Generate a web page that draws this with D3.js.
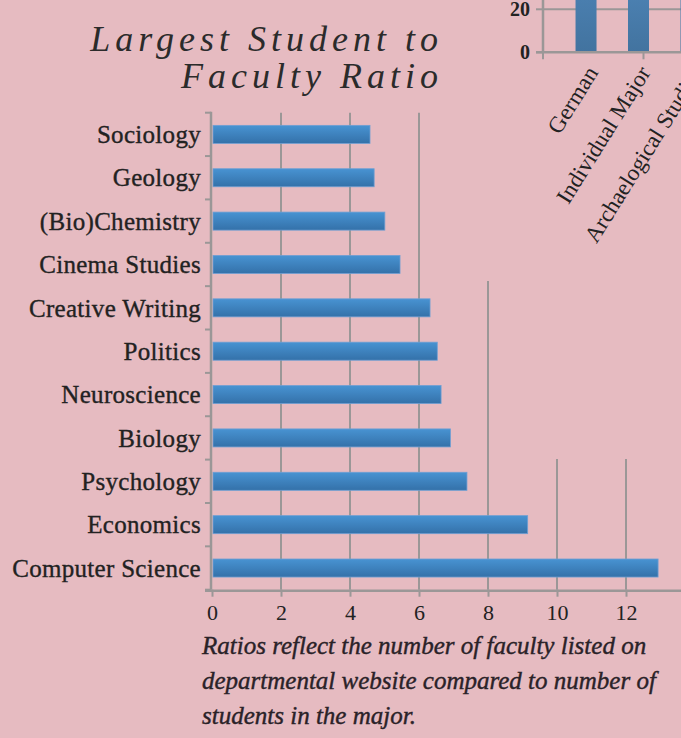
<!DOCTYPE html>
<html>
<head>
<meta charset="utf-8">
<script src="https://cdn.jsdelivr.net/npm/d3@7"></script>
<style>
  body { margin: 0; background: #e6bbc1; }
  svg { display: block; }
</style>
</head>
<body>
<div id="chart"></div>
<script>
// main chart data (top to bottom)
const categories = ["Sociology", "Geology", "(Bio)Chemistry", "Cinema Studies", "Creative Writing",
    "Politics", "Neuroscience", "Biology", "Psychology", "Economics", "Computer Science"]
const ratios = [4.58, 4.70, 5.01, 5.45, 6.32, 6.53, 6.64, 6.91, 7.39, 9.15, 12.93]
const ratioTicks = [0, 2, 4, 6, 8, 10, 12]

// inset chart peeking in at the top right (tops cut off by the page)
const insetCategories = ["German", "Individual Major", "Archaelogical Studies"]
const insetValues = [42, 38, 36]
const insetTicks = [0, 20]

const titleLines = ["Largest Student to", "Faculty Ratio"]
const captionLines = [
    "Ratios reflect the number of faculty listed on",
    "departmental website compared to number of",
    "students in the major."
]

let svg_width = 681
let svg_height = 738
const bg = "#e6bbc1"
const axisGray = "#9b9797"
const serif = "'Liberation Serif', 'DejaVu Serif', serif"

var svg = d3.select("#chart")
    .append("svg")
    .attr("width", svg_width)
    .attr("height", svg_height)

svg.append("rect")
    .attr("width", svg_width)
    .attr("height", svg_height)
    .attr("fill", bg)

var defs = svg.append("defs")
var grad = defs.append("linearGradient")
    .attr("id", "barGrad")
    .attr("x1", 0).attr("y1", 0).attr("x2", 0).attr("y2", 1)
grad.append("stop").attr("offset", "0%").attr("stop-color", "#4893d2")
grad.append("stop").attr("offset", "100%").attr("stop-color", "#3471a9")

var grad2 = defs.append("linearGradient")
    .attr("id", "insetGrad")
    .attr("x1", 0).attr("y1", 0).attr("x2", 0).attr("y2", 1)
grad2.append("stop").attr("offset", "0%").attr("stop-color", "#4f86b9")
grad2.append("stop").attr("offset", "100%").attr("stop-color", "#42739f")

// scales for main chart
var xScale = d3.scaleLinear()
    .domain([0, 14])
    .range([212, 695])

var yScale = d3.scaleBand()
    .domain(categories)
    .range([112.7, 589.7])
    .paddingInner(0.584)
    .paddingOuter(0.292)

const plotTop = yScale.range()[0]
const plotBottom = yScale.range()[1]

// vertical gridlines
svg.append("g").selectAll("line").data(ratioTicks.slice(1))
    .enter().append("line")
    .attr("x1", d => xScale(d))
    .attr("x2", d => xScale(d))
    .attr("y1", plotTop)
    .attr("y2", plotBottom)
    .style("stroke", axisGray)
    .style("stroke-width", "2px")

// the inset chart and the caption box sit on top of the grid with page-coloured fill
svg.append("rect")
    .attr("x", 455).attr("y", 0)
    .attr("width", 226).attr("height", 281)
    .attr("fill", bg)
svg.append("rect")
    .attr("x", 525).attr("y", 0)
    .attr("width", 156).attr("height", 459)
    .attr("fill", bg)

// bars
svg.append("g").selectAll("rect").data(categories)
    .enter().append("rect")
    .attr("x", xScale(0) + 1)
    .attr("y", d => yScale(d))
    .attr("width", (d, i) => xScale(ratios[i]) - xScale(0) - 1)
    .attr("height", yScale.bandwidth())
    .attr("fill", "url(#barGrad)")
    .style("stroke", "#6f9fd3")
    .style("stroke-width", "0.8px")

// y axis line with ticks at band boundaries
var yAxis = svg.append("g")
yAxis.append("line")
    .attr("x1", xScale(0) - 1).attr("x2", xScale(0) - 1)
    .attr("y1", plotTop - 1).attr("y2", plotBottom)
    .style("stroke", axisGray)
    .style("stroke-width", "2.5px")
yAxis.selectAll(".btick").data(d3.range(categories.length + 1))
    .enter().append("line")
    .attr("class", "btick")
    .attr("x1", xScale(0) - 7).attr("x2", xScale(0) - 1)
    .attr("y1", i => plotTop + i * yScale.step())
    .attr("y2", i => plotTop + i * yScale.step())
    .style("stroke", axisGray)
    .style("stroke-width", "2px")

yAxis.selectAll("text").data(categories)
    .enter().append("text")
    .attr("x", 201)
    .attr("y", d => yScale(d) + yScale.bandwidth() / 2)
    .attr("dy", "0.35em")
    .attr("text-anchor", "end")
    .attr("fill", "#222")
    .style("stroke", "#222")
    .style("stroke-width", "0.35px")
    .style("font-family", serif)
    .style("font-size", "25px")
    .style("letter-spacing", "0.3px")
    .text(d => d)

// x axis
var xAxis = svg.append("g")
    .attr("transform", "translate(0," + plotBottom + ")")
    .call(d3.axisBottom(xScale).tickValues(ratioTicks).tickSizeInner(7).tickSizeOuter(0).tickPadding(8))
xAxis.select(".domain").remove()
xAxis.append("line")
    .attr("x1", xScale(0) - 7).attr("x2", svg_width)
    .attr("y1", 1).attr("y2", 1)
    .style("stroke", axisGray)
    .style("stroke-width", "2.5px")
xAxis.selectAll(".tick line")
    .style("stroke", axisGray)
    .style("stroke-width", "2px")
xAxis.selectAll(".tick text")
    .attr("fill", "#222")
    .style("font-family", serif)
    .style("font-size", "22px")

// inset chart
var ixScale = d3.scaleBand()
    .domain(insetCategories)
    .range([543, 734])
    .paddingInner(0.6)
    .paddingOuter(0.62)

var iyScale = d3.scaleLinear()
    .domain([0, 20])
    .range([52.3, 9.3])

var inset = svg.append("g")

inset.append("line")
    .attr("x1", ixScale.range()[0]).attr("x2", svg_width)
    .attr("y1", iyScale(20)).attr("y2", iyScale(20))
    .style("stroke", axisGray)
    .style("stroke-width", "2px")

inset.selectAll("rect").data(insetCategories)
    .enter().append("rect")
    .attr("x", d => ixScale(d))
    .attr("y", (d, i) => iyScale(insetValues[i]))
    .attr("width", ixScale.bandwidth())
    .attr("height", (d, i) => iyScale(0) - iyScale(insetValues[i]))
    .attr("fill", "url(#insetGrad)")

inset.append("line")
    .attr("x1", ixScale.range()[0]).attr("x2", ixScale.range()[0])
    .attr("y1", 0).attr("y2", iyScale(0))
    .style("stroke", axisGray)
    .style("stroke-width", "2.5px")
inset.append("line")
    .attr("x1", ixScale.range()[0] - 7).attr("x2", svg_width)
    .attr("y1", iyScale(0)).attr("y2", iyScale(0))
    .style("stroke", axisGray)
    .style("stroke-width", "2.5px")
inset.selectAll(".ytick").data(insetTicks)
    .enter().append("line")
    .attr("class", "ytick")
    .attr("x1", ixScale.range()[0] - 7).attr("x2", ixScale.range()[0])
    .attr("y1", d => iyScale(d)).attr("y2", d => iyScale(d))
    .style("stroke", axisGray)
    .style("stroke-width", "2px")
inset.selectAll(".xtick").data([ixScale.range()[0], ixScale("Individual Major") + ixScale.bandwidth() / 2 + 5])
    .enter().append("line")
    .attr("class", "xtick")
    .attr("x1", d => d).attr("x2", d => d)
    .attr("y1", iyScale(0)).attr("y2", iyScale(0) + 7)
    .style("stroke", axisGray)
    .style("stroke-width", "2px")
inset.selectAll(".ylab").data(insetTicks)
    .enter().append("text")
    .attr("class", "ylab")
    .attr("x", 530)
    .attr("y", d => iyScale(d))
    .attr("dy", "0.35em")
    .attr("text-anchor", "end")
    .attr("fill", "#222")
    .style("font-family", serif)
    .style("font-weight", "bold")
    .style("font-size", "20px")
    .text(d => d)
inset.selectAll(".xlab").data(insetCategories)
    .enter().append("text")
    .attr("class", "xlab")
    .attr("transform", d => "translate(" + (ixScale(d) + ixScale.bandwidth() / 2 + 6) + "," + (iyScale(0) + 16) + ") rotate(-58)")
    .attr("dy", "0.35em")
    .attr("text-anchor", "end")
    .attr("fill", "#222")
    .style("font-family", serif)
    .style("font-size", "23px")
    .text(d => d)

// title
svg.append("g").selectAll("text").data(titleLines)
    .enter().append("text")
    .attr("x", 443)
    .attr("y", (d, i) => 51 + i * 37)
    .attr("text-anchor", "end")
    .attr("fill", "#2b2b2b")
    .style("font-family", serif)
    .style("font-style", "italic")
    .style("font-size", "36px")
    .style("letter-spacing", "5px")
    .text(d => d)

// caption
svg.append("g").selectAll("text").data(captionLines)
    .enter().append("text")
    .attr("x", 202)
    .attr("y", (d, i) => 654 + i * 35)
    .attr("fill", "#2a2228")
    .style("stroke", "#2a2228")
    .style("stroke-width", "0.4px")
    .style("font-family", serif)
    .style("font-style", "italic")
    .style("font-size", "25px")
    .text(d => d)
</script>
</body>
</html>
